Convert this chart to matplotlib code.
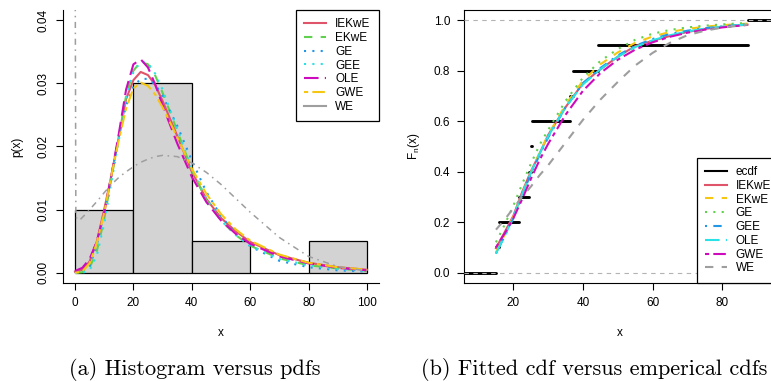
import numpy as np
import matplotlib
matplotlib.use("Agg")
import matplotlib.pyplot as plt
from matplotlib.lines import Line2D

plt.rcParams["font.family"] = ["Liberation Sans", "DejaVu Sans"]
plt.rcParams["mathtext.default"] = "regular"

# sample
sample = [15.0, 16.0, 21.7, 24.6, 25.0, 25.3, 36.2, 37.0, 44.4, 87.3]
hist_bins = [0, 20, 40, 60, 80, 100]

# fitted pdfs (panel a)
pdf_x = [0, 2.5, 5, 7.5, 10, 12.5, 15, 17.5, 20, 22.5, 25, 27.5, 30,
         35, 40, 45, 50, 55, 60, 70, 80, 90, 100]
pdf_iekwe = [0.0002, 0.0005, 0.0018, 0.0050, 0.0100, 0.0155, 0.0215, 0.0275, 0.0305, 0.0318, 0.0313, 0.0297, 0.0272,
             0.0217, 0.0160, 0.0117, 0.0087, 0.0066, 0.0049, 0.0028, 0.0016, 0.0009, 0.0005]
pdf_ekwe = [0.0, 0.0001, 0.0008, 0.0035, 0.0085, 0.0150, 0.0215, 0.0280, 0.0320, 0.0334, 0.0330, 0.0312, 0.0285,
            0.0225, 0.0163, 0.0115, 0.0083, 0.0060, 0.0043, 0.0023, 0.0012, 0.0007, 0.0003]
pdf_ge = [0.0, 0.0001, 0.0010, 0.0045, 0.0095, 0.0155, 0.0215, 0.0265, 0.0295, 0.0307, 0.0307, 0.0298, 0.0280,
          0.0233, 0.0178, 0.0128, 0.0090, 0.0062, 0.0042, 0.0019, 0.0009, 0.0004, 0.0002]
pdf_gee = [0.0, 0.0, 0.0004, 0.0028, 0.0078, 0.0145, 0.0210, 0.0278, 0.0318, 0.0334, 0.0332, 0.0315, 0.0290,
           0.0228, 0.0165, 0.0117, 0.0083, 0.0060, 0.0043, 0.0022, 0.0012, 0.0006, 0.0003]
pdf_ole = [0.0003, 0.0008, 0.0022, 0.0050, 0.0095, 0.0155, 0.0220, 0.0290, 0.0330, 0.0338, 0.0325, 0.0298, 0.0265,
           0.0205, 0.0152, 0.0112, 0.0083, 0.0062, 0.0046, 0.0026, 0.0015, 0.0008, 0.0004]
pdf_gwe = [0.0, 0.0002, 0.0015, 0.0048, 0.0095, 0.0155, 0.0210, 0.0260, 0.0292, 0.0301, 0.0296, 0.0282, 0.0262,
           0.0215, 0.0165, 0.0125, 0.0093, 0.0069, 0.0051, 0.0029, 0.0016, 0.0009, 0.0005]
we_x = [0, 0.3, 1.5, 3, 5, 7.5, 10, 12.5, 15, 17.5, 20, 22.5, 25, 27.5, 30,
        35, 40, 45, 50, 55, 60, 70, 80, 90, 100]
pdf_we = [0.06, 0.0088, 0.0083, 0.0090, 0.0100, 0.0113, 0.0127, 0.0140, 0.0151, 0.0160, 0.0168, 0.0175, 0.0180, 0.0184, 0.0186,
          0.0184, 0.0174, 0.0159, 0.0140, 0.0118, 0.0096, 0.0056, 0.0026, 0.0010, 0.0003]

# fitted cdfs (panel b)
cdf_x = [15, 17.5, 20, 22.5, 25, 27.5, 30, 35, 40, 45, 50, 55, 60, 65, 70, 75, 80, 87.3]
cdf_iekwe = [0.097, 0.160, 0.225, 0.318, 0.400, 0.470, 0.545, 0.655, 0.750, 0.805, 0.855, 0.897, 0.918, 0.937, 0.953, 0.965, 0.973, 0.982]
cdf_ekwe = [0.080, 0.150, 0.220, 0.310, 0.395, 0.475, 0.545, 0.665, 0.760, 0.825, 0.872, 0.910, 0.935, 0.953, 0.965, 0.974, 0.980, 0.986]
cdf_ge = [0.120, 0.190, 0.265, 0.350, 0.430, 0.505, 0.565, 0.680, 0.772, 0.838, 0.885, 0.922, 0.946, 0.961, 0.971, 0.978, 0.983, 0.989]
cdf_gee = [0.075, 0.145, 0.215, 0.305, 0.390, 0.465, 0.535, 0.655, 0.750, 0.810, 0.860, 0.898, 0.925, 0.945, 0.958, 0.968, 0.975, 0.984]
cdf_ole = [0.075, 0.145, 0.220, 0.310, 0.395, 0.470, 0.540, 0.655, 0.745, 0.805, 0.855, 0.893, 0.920, 0.940, 0.955, 0.966, 0.974, 0.983]
cdf_gwe = [0.100, 0.155, 0.215, 0.290, 0.370, 0.445, 0.510, 0.625, 0.720, 0.790, 0.843, 0.883, 0.912, 0.934, 0.950, 0.962, 0.971, 0.981]
cdf_we = [0.170, 0.210, 0.255, 0.300, 0.340, 0.385, 0.425, 0.515, 0.605, 0.685, 0.755, 0.820, 0.870, 0.910, 0.940, 0.958, 0.970, 0.982]

RED, GREEN, BLUE, CYAN, MAG, YEL, GRAY = "#DF536B", "#61D04F", "#2297E6", "#28E2E5", "#CD0BBC", "#F5C710", "#9E9E9E"
DASHED = (0, (4, 4))
DOTTED = (0, (1, 3))
DOTDASH = (0, (1, 3, 4, 3))
LONGDASH = (0, (7, 3))
TWODASH = (0, (2, 2, 6, 2))
FS = 8.5
LW = 1.5
LEG = dict(borderaxespad=0, fontsize=FS, fancybox=False, framealpha=1, edgecolor="black",
           handlelength=1.85, handletextpad=0.75, labelspacing=0.15, borderpad=0.7)

fig = plt.figure(figsize=(7.71, 3.81), dpi=100)
W, H = 771, 381

# ---------- (a) histogram vs pdfs ----------
ax1 = fig.add_axes([63.3 / W, 98 / H, 315.4 / W, 273 / H])
ax1.hist(sample, bins=hist_bins, density=True, color="#D3D3D3", edgecolor="black", linewidth=0.9)
pdfs = [("IEKwE", pdf_iekwe, RED, "-"), ("EKwE", pdf_ekwe, GREEN, DASHED),
        ("GE", pdf_ge, BLUE, DOTTED), ("GEE", pdf_gee, CYAN, DOTTED),
        ("OLE", pdf_ole, MAG, LONGDASH), ("GWE", pdf_gwe, YEL, TWODASH)]
for name, ys, c, ls in pdfs:
    ax1.plot(pdf_x, ys, color=c, ls=ls, lw=LW)
ax1.plot(we_x, pdf_we, color=GRAY, ls=DOTDASH, lw=1.1)
ax1.set_xlim(-4, 104)
ax1.set_ylim(-0.0016, 0.0416)
ax1.set_xticks([0, 20, 40, 60, 80, 100])
ax1.set_yticks([0, 0.01, 0.02, 0.03, 0.04])
ax1.set_yticklabels(["0.00", "0.01", "0.02", "0.03", "0.04"], rotation=90, va="center")
for s in ["top", "right"]:
    ax1.spines[s].set_visible(False)
ax1.set_xlabel("x", fontsize=FS, va="center")
ax1.xaxis.set_label_coords(0.5, -0.183)
ax1.set_ylabel("p(x)", fontsize=FS, va="center")
ax1.yaxis.set_label_coords(-0.145, 0.5)
h1 = [Line2D([], [], color=c, ls=ls, lw=LW) for _, _, c, ls in pdfs]
h1.append(Line2D([], [], color=GRAY, ls="-", lw=LW))
leg1 = ax1.legend(h1, [p[0] for p in pdfs] + ["WE"], loc="upper right", bbox_to_anchor=(1, 1), **LEG)
leg1.get_frame().set_linewidth(0.9)

# ---------- (b) ecdf vs fitted cdfs ----------
ax2 = fig.add_axes([464.3 / W, 98.3 / H, 314.9 / W, 272.7 / H])
xs = np.sort(sample)
n = len(xs)
xlo, xhi = 5.9, 96.4
edges = np.concatenate([[xlo - 5], xs, [xhi + 5]])
for i in range(n + 1):
    ax2.plot([edges[i], edges[i + 1]], [i / n, i / n], color="black", lw=2.1,
             solid_capstyle="round", zorder=2)
ax2.axhline(0, color="#B3B3B3", ls=DASHED, lw=0.8, zorder=3)
ax2.axhline(1, color="#B3B3B3", ls=DASHED, lw=0.8, zorder=3)
cdfs = [("IEKwE", cdf_iekwe, RED, "-"), ("EKwE", cdf_ekwe, YEL, DASHED),
        ("GE", cdf_ge, GREEN, DOTTED), ("GEE", cdf_gee, BLUE, DOTDASH),
        ("OLE", cdf_ole, CYAN, LONGDASH), ("GWE", cdf_gwe, MAG, TWODASH),
        ("WE", cdf_we, GRAY, DASHED)]
for name, ys, c, ls in cdfs:
    ax2.plot(cdf_x, ys, color=c, ls=ls, lw=LW, zorder=4)
ax2.set_xlim(xlo, xhi)
ax2.set_ylim(-0.04, 1.04)
ax2.set_xticks([20, 40, 60, 80])
ax2.set_yticks([0, 0.2, 0.4, 0.6, 0.8, 1.0])
ax2.set_yticklabels(["0.0", "0.2", "0.4", "0.6", "0.8", "1.0"])
ax2.set_xlabel("x", fontsize=FS, va="center")
ax2.xaxis.set_label_coords((620 - 464.3) / 314.9, -0.183)
ax2.set_ylabel(r"$F_n(x)$", fontsize=FS, va="center")
ax2.yaxis.set_label_coords(-0.16, 0.5)
h2 = [Line2D([], [], color="black", lw=LW)] + [Line2D([], [], color=c, ls=ls, lw=LW) for _, _, c, ls in cdfs]
leg2 = ax2.legend(h2, ["ecdf"] + [c[0] for c in cdfs], loc="lower right", bbox_to_anchor=(1, 0), **LEG)
leg2.get_frame().set_linewidth(0.9)

for ax in (ax1, ax2):
    ax.tick_params(length=4.7, width=0.8, labelsize=FS, pad=5.5, colors="black")
    for s in ax.spines.values():
        s.set_linewidth(0.8)

fig.text(195 / W, 6 / H, "(a) Histogram versus pdfs", family="cmr10", fontsize=16,
         ha="center", va="baseline")
fig.text(594 / W, 6 / H, "(b) Fitted cdf versus emperical cdfs", family="cmr10", fontsize=16,
         ha="center", va="baseline")

fig.savefig("out.png", dpi=100)
